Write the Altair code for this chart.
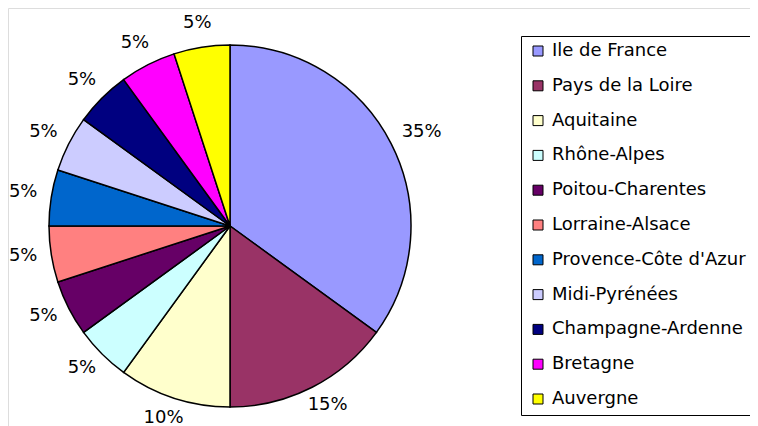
import altair as alt
import pandas as pd

regions = ["Ile de France", "Pays de la Loire", "Aquitaine", "Rhône-Alpes",
           "Poitou-Charentes", "Lorraine-Alsace", "Provence-Côte d'Azur",
           "Midi-Pyrénées", "Champagne-Ardenne", "Bretagne", "Auvergne"]
shares = [35, 15, 10, 5, 5, 5, 5, 5, 5, 5, 5]
colors = ["#9999FF", "#993366", "#FFFFCC", "#CCFFFF", "#660066", "#FF8080",
          "#0066CC", "#CCCCFF", "#000080", "#FF00FF", "#FFFF00"]

df = pd.DataFrame({"region": regions, "share": shares,
                   "order": list(range(len(regions))),
                   "label": [f"{s}%" for s in shares]})

cx, cy = 222, 218

arcs = alt.Chart(df).mark_arc(outerRadius=181, stroke="black", strokeWidth=1.5).encode(
    theta=alt.Theta("share:Q", stack=True),
    order=alt.Order("order:Q"),
    x=alt.value(cx), y=alt.value(cy),
    color=alt.Color("region:N",
                    scale=alt.Scale(domain=regions, range=colors),
                    sort=regions,
                    legend=alt.Legend(title=None, orient="none",
                                      legendX=513, legendY=28,
                                      symbolType="square", symbolSize=100,
                                      symbolStrokeColor="black", symbolStrokeWidth=1,
                                      labelFontSize=18, labelFont="DejaVu Sans",
                                      labelColor="black", rowPadding=16.8,
                                      padding=6, strokeColor="black",
                                      fillColor="white", labelLimit=400,
                                      symbolOffset=2, labelOffset=5)),
)

# label placement: text box pushed outside the pie edge (Excel-like)
labels = alt.Chart(df).transform_joinaggregate(
    total="sum(share)"
).transform_window(
    cum="sum(share)", sort=[alt.SortField("order")], frame=[None, 0]
).transform_calculate(
    m="2*PI*(datum.cum - datum.share/2)/datum.total",
).transform_calculate(
    lx=f"{cx} + (198 + length(datum.label)*5.7) * sin(datum.m)",
    ly=f"{cy} - 203.5 * cos(datum.m) - 2",
).mark_text(fontSize=18, font="DejaVu Sans", color="black",
            baseline="middle", align="center").encode(
    x=alt.X("lx:Q", scale=None),
    y=alt.Y("ly:Q", scale=None),
    text="label:N",
)

chart = alt.layer(arcs, labels).properties(
    width=742, height=418, padding=0, autosize=alt.AutoSizeParams(type="none")
).configure_view(strokeWidth=0, stroke="transparent").configure(background="white")

chart.save("out.html", embed_options={"renderer": "svg", "actions": False})
